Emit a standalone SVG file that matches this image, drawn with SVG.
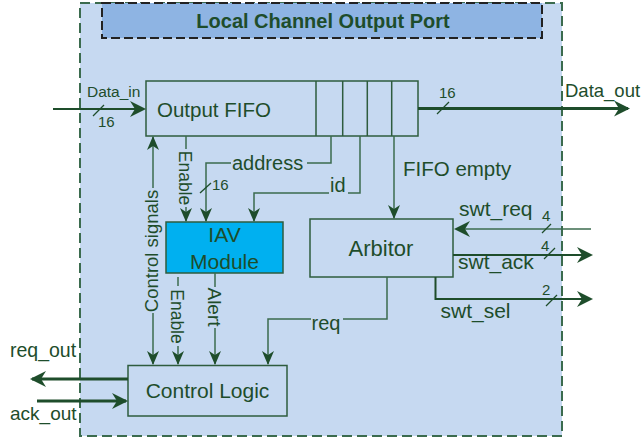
<svg xmlns="http://www.w3.org/2000/svg" width="642" height="438" viewBox="0 0 642 438">
<defs>
<style>
text{font-family:"Liberation Sans",Arial,sans-serif;fill:#1E4D2B}
.box{stroke:#2E5C3E;stroke-width:1.5}
.c{fill:none;stroke:#3B6B4E;stroke-width:1.5}
.cd{fill:none;stroke:#1E4D2B;stroke-width:2}
.ct{fill:none;stroke:#1E4D2B;stroke-width:3}
.sl{stroke:#1E4D2B;stroke-width:1.3}
.lbl{font-size:20px}
.num{font-size:15px}
</style>
<marker id="am" viewBox="0 0 14 12" refX="13" refY="6" markerWidth="14" markerHeight="12" orient="auto" markerUnits="userSpaceOnUse"><path d="M0,0 L14,6 L0,12 L4,6 Z" fill="#1E4D2B"/></marker>
<marker id="al" viewBox="0 0 16 16" refX="14" refY="8" markerWidth="16" markerHeight="16" orient="auto" markerUnits="userSpaceOnUse"><path d="M0,0 L16,8 L0,16 L5,8 Z" fill="#1E4D2B"/></marker>
</defs>
<rect x="0" y="0" width="642" height="438" fill="#ffffff"/>
<g id="port">
<rect x="80" y="3" width="482" height="433" fill="#C6D9F1" stroke="#3B6B4E" stroke-width="2" stroke-dasharray="10,5"/>
</g>
<g id="title">
<rect x="102" y="3" width="440" height="35" fill="#8EB4E3" stroke="#222" stroke-width="2" stroke-dasharray="9,4"/>
<text x="323" y="28" font-size="20" font-weight="bold" text-anchor="middle">Local Channel Output Port</text>
</g>
<g id="output-fifo">
<rect class="box" x="146" y="81" width="272" height="55" fill="none"/>
<path class="box" d="M316,81V136M342.7,81V136M367.3,81V136M391.7,81V136" fill="none"/>
<text x="157" y="117" font-size="20.5">Output FIFO</text>
</g>
<g id="iav-module">
<rect class="box" x="166" y="222" width="117" height="51" fill="#00B0F0"/>
<text x="224.5" y="242" font-size="21" text-anchor="middle">IAV</text>
<text x="224.5" y="268.5" font-size="21" text-anchor="middle">Module</text>
</g>
<g id="arbitor">
<rect class="box" x="310" y="219" width="143" height="58" fill="none"/>
<text x="381" y="255.5" font-size="22" text-anchor="middle">Arbitor</text>
</g>
<g id="control-logic">
<rect class="box" x="128" y="365.5" width="159" height="50.5" fill="none"/>
<text x="207.5" y="397.5" font-size="21" text-anchor="middle">Control Logic</text>
</g>
<g id="connectors">
<!-- Data_in -->
<path class="cd" d="M53,109H144" marker-end="url(#al)"/>
<line class="sl" x1="93" y1="116" x2="104" y2="105"/>
<text class="num" x="98" y="127">16</text>
<text x="87" y="96.5" font-size="15.5">Data_in</text>
<!-- Data_out -->
<path class="ct" d="M418,108.5H628" marker-end="url(#al)"/>
<line class="sl" x1="437" y1="114" x2="449" y2="102"/>
<text class="num" x="439" y="98">16</text>
<text x="565" y="97" font-size="18.5">Data_out</text>
<!-- Enable (FIFO to IAV) -->
<path class="c" d="M186,136V149"/>
<path class="c" d="M186,207V221" marker-end="url(#am)"/>
<text x="178.5" y="178" font-size="17.5" text-anchor="middle" transform="rotate(90 178.5 178)">Enable</text>
<!-- address -->
<path class="c" d="M331,136V163H307"/>
<path class="c" d="M231,163H206V221" marker-end="url(#am)"/>
<text class="lbl" x="232" y="170">address</text>
<line class="sl" x1="200" y1="193" x2="211" y2="183"/>
<text class="num" x="212" y="190">16</text>
<!-- id -->
<path class="c" d="M360,136V193H348"/>
<path class="c" d="M329,193H254V221" marker-end="url(#am)"/>
<text class="lbl" x="330" y="192">id</text>
<!-- FIFO empty -->
<path class="c" d="M394,136V218" marker-end="url(#am)"/>
<text x="403" y="175.5" font-size="20.5">FIFO empty</text>
<!-- Control signals -->
<path class="c" d="M153,188V137" marker-end="url(#am)"/>
<path class="c" d="M153,313V364" marker-end="url(#am)"/>
<text x="157.5" y="251" font-size="18.5" text-anchor="middle" transform="rotate(-90 157.5 251)">Control signals</text>
<!-- Enable (IAV to Control Logic) -->
<path class="c" d="M178,277V286"/>
<path class="c" d="M178,346V364" marker-end="url(#am)"/>
<text x="170.5" y="316.5" font-size="17.5" text-anchor="middle" transform="rotate(90 170.5 316.5)">Enable</text>
<!-- Alert -->
<path class="c" d="M215,273V287"/>
<path class="c" d="M215,328V364" marker-end="url(#am)"/>
<text x="207.5" y="307" font-size="19" text-anchor="middle" transform="rotate(90 207.5 307)">Alert</text>
<!-- req -->
<path class="c" d="M387,277V319H343"/>
<path class="c" d="M311,319H268V364" marker-end="url(#am)"/>
<text class="lbl" x="311.5" y="330">req</text>
<!-- swt_req -->
<path class="c" d="M591,229H456" marker-end="url(#al)"/>
<line class="sl" x1="542" y1="233" x2="551" y2="224"/>
<text class="num" x="542" y="220.5">4</text>
<text x="459" y="216" font-size="21">swt_req</text>
<!-- swt_ack -->
<path class="cd" d="M453,255H591" marker-end="url(#al)"/>
<line class="sl" x1="544" y1="259" x2="555" y2="248"/>
<text class="num" x="541" y="250.5">4</text>
<text x="458" y="269" font-size="21">swt_ack</text>
<!-- swt_sel -->
<path class="cd" d="M435.5,277V299H591" marker-end="url(#al)"/>
<line class="sl" x1="546" y1="306" x2="557" y2="295"/>
<text class="num" x="542" y="295">2</text>
<text x="440.5" y="318" font-size="21">swt_sel</text>
<!-- req_out -->
<path class="ct" d="M128,379H32" marker-end="url(#al)"/>
<text x="10" y="357" font-size="19.5">req_out</text>
<!-- ack_out -->
<path class="ct" d="M37,401H126" marker-end="url(#al)"/>
<text x="10" y="419.5" font-size="19">ack_out</text>
</g>
</svg>
